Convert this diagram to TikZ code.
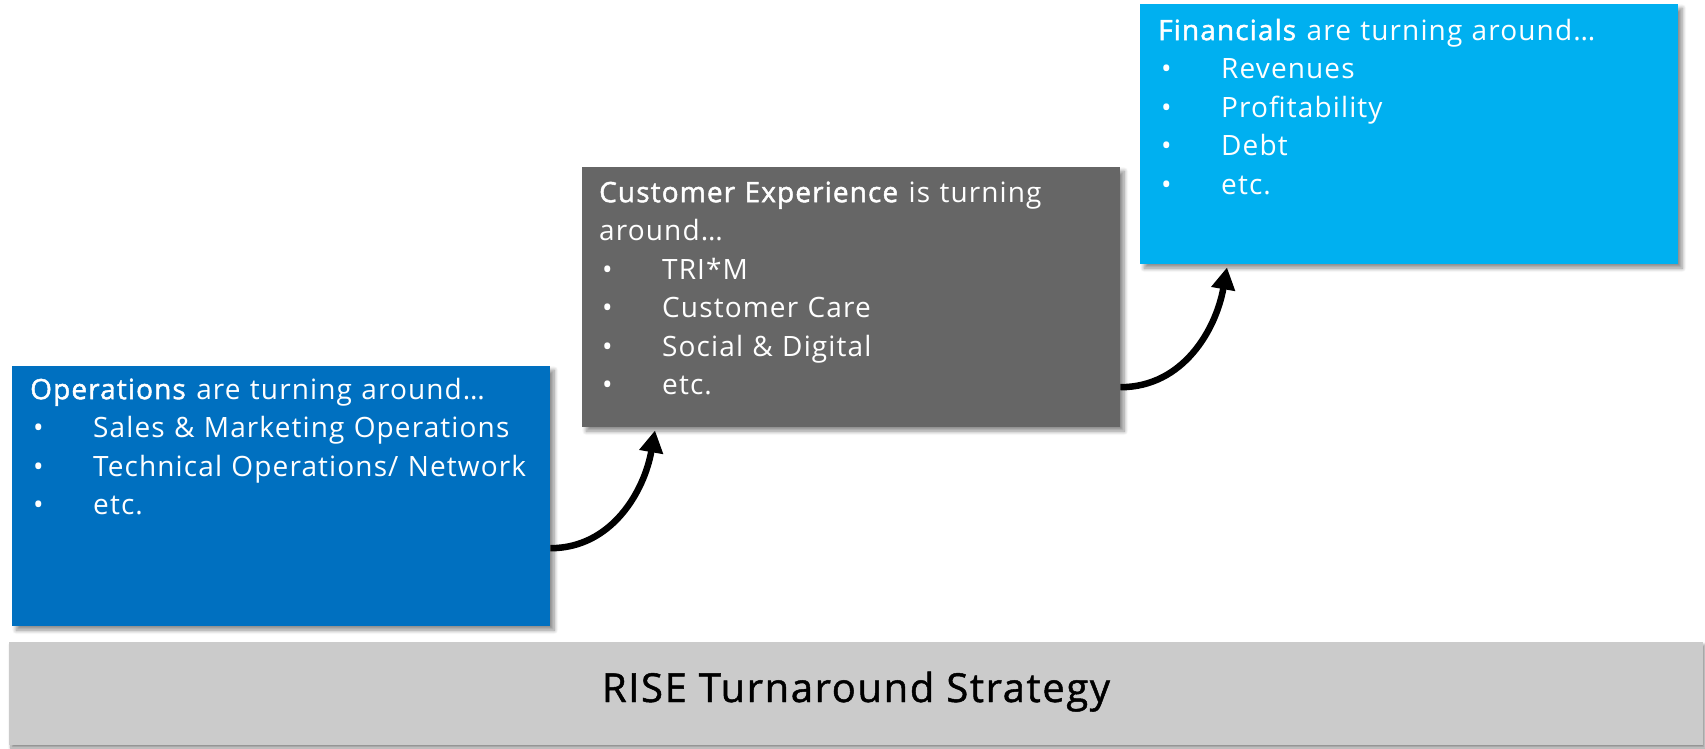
\documentclass[tikz,border=0pt]{standalone}
\usepackage{fontspec}
\setmainfont{Open Sans}[LetterSpace=4, BoldFont={Open Sans}, BoldFeatures={FakeBold=1.6}]
\newfontfamily\barfont{Open Sans}[LetterSpace=4, FakeBold=1.2]
\usetikzlibrary{positioning,arrows.meta,shadows.blur}
\setlength{\parindent}{0pt}

\definecolor{opsblue}{HTML}{0070C0}
\definecolor{cxgray}{HTML}{666666}
\definecolor{finblue}{HTML}{00B0F0}
\definecolor{basegray}{HTML}{CBCBCB}

\newcommand{\stepitem}[1]{\makebox[63pt][l]{\hspace{3pt}•}#1}

\tikzset{
	stepbox/.style={anchor=north west, minimum width=538pt, minimum height=260pt, inner sep=0pt,
		blur shadow={shadow xshift=4pt, shadow yshift=-4pt, shadow blur radius=4pt, shadow blur steps=8, shadow opacity=45}},
	steptext/.style={anchor=north west, inner sep=0pt, text width=510pt, align=left, text=white,
		font=\fontsize{28}{38.5}\selectfont},
	basebar/.style={minimum width=1694pt, minimum height=103pt, inner sep=0pt, fill=basegray,
		font=\barfont\fontsize{40}{48}\selectfont, text height=29pt, text depth=12pt,
		blur shadow={shadow xshift=2pt, shadow yshift=-3pt, shadow blur radius=3pt, shadow blur steps=6, shadow opacity=45}},
	stepflow/.style={line width=6.5pt, -{Triangle[width=23pt,length=22pt]}},
}

\begin{document}
\begin{tikzpicture}[x=1pt,y=-1pt]
		\useasboundingbox (0,0) rectangle (1705,749);
		\node[basebar] (rise) at (856,693.5) {RISE Turnaround Strategy};
		\node[stepbox, fill=opsblue] (ops) at (12,366) {};
		\node[stepbox, fill=cxgray] (cx) at (582,167) {};
		\node[stepbox, fill=finblue] (fin) at (1140,4) {};
		\node[steptext, below right=6pt and 18pt of ops.north west] (opstext) {\strut\textbf{Operations} are turning around…\\
			\stepitem{Sales \& Marketing Operations}\\
			\stepitem{Technical Operations/ Network}\\
			\stepitem{etc.}};
		\node[steptext, below right=8pt and 17pt of cx.north west] (cxtext) {\strut\textbf{Customer Experience} is turning\\
			around…\\
			\stepitem{TRI*M}\\
			\stepitem{Customer Care}\\
			\stepitem{Social \& Digital}\\
			\stepitem{etc.}};
		\node[steptext, below right=9pt and 18pt of fin.north west] (fintext) {\strut\textbf{Financials} are turning around…\\
			\stepitem{Revenues}\\
			\stepitem{Profitability}\\
			\stepitem{Debt}\\
			\stepitem{etc.}};
		\draw[stepflow] ([yshift=-52pt]ops.east) to[out=0, in=-100] ([xshift=73pt, yshift=-3pt]cx.south west);
		\draw[stepflow] ([yshift=-90pt]cx.east) to[out=0, in=-100] ([xshift=87pt, yshift=-3pt]fin.south west);
	\end{tikzpicture}
\end{document}
